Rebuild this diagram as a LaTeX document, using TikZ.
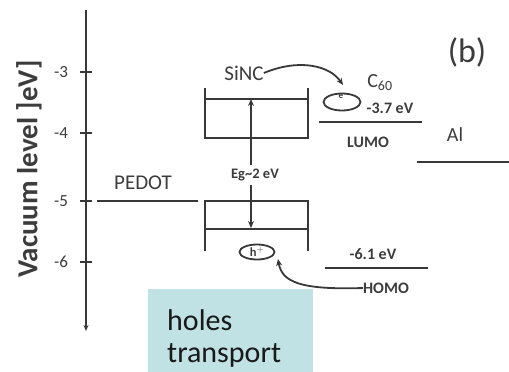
\documentclass[tikz,border=0pt]{standalone}
\usepackage{fontspec}
\setmainfont{Carlito}
\usetikzlibrary{arrows.meta,shapes.geometric}
\definecolor{ln}{HTML}{383838}
\definecolor{tx}{HTML}{3C3C3C}
\definecolor{teal}{HTML}{C0E2E4}
\tikzset{
  lvl/.style={draw=ln, line width=2.1pt},
  lab/.style={text=tx, inner sep=0pt},
  small/.style={lab, font=\bfseries\fontsize{16}{17}\selectfont},
  mid/.style={lab, font=\fontsize{21}{23}\selectfont},
  tick/.style={lab, font=\fontsize{17}{18}\selectfont},
  arr/.style={draw=ln, line width=1.8pt, -{Stealth[length=7pt,width=6pt]}},
  blob/.style={draw=ln, line width=1.8pt, ellipse, inner sep=0pt},
  big/.style={lab, text=black!90, anchor=base west, font=\fontsize{30}{32}\selectfont}
}
\begin{document}
\begin{tikzpicture}[x=1pt,y=-1pt]
\useasboundingbox (0,0) rectangle (509,372);
% axis
\coordinate (atop) at (86,10);
\coordinate (abot) at (86,331);
\draw[draw=ln, line width=2.1pt, -{Stealth[length=6pt,width=5pt]}] (atop) -- (abot);
\foreach \yy/\t in {72/-3,133/-4,201/-5,262/-6}{
  \draw[draw=ln, line width=2.1pt] (80,\yy) -- (92,\yy);
  \node[tick] at (61,\yy) {\t};
}
\node[lab, rotate=90, font=\bfseries\fontsize{29}{30}\selectfont] (ylab) at (29,169) {Vacuum level ]eV]};
% PEDOT
\draw[lvl] (97,201) -- (198,201);
\node[mid] (pedot) at (143,183) {PEDOT};
% SiNC upper well
\draw[lvl] (205,88) -- (205,138) -- (308,138) -- (308,88);
\draw[lvl] (205,99) -- (308,99);
% SiNC lower well
\draw[lvl] (205,251) -- (205,201) -- (308,201) -- (308,251);
\draw[lvl] (205,229) -- (308,229);
\node[mid] (sinc) at (244,73) {SiNC};
% Eg
\node[lab, font=\bfseries\fontsize{14.5}{15}\selectfont] (eg) at (255,175) {Eg\textasciitilde2 eV};
\coordinate (cbtop) at (251,99);
\coordinate (vbtop) at (251,228);
\draw[arr] (eg.north -| cbtop) ++(0,-4) -- (cbtop);
\draw[arr] (eg.south -| vbtop) ++(0,4) -- (vbtop);
% C60
\node[blob, minimum width=37pt, minimum height=17pt] (el) at (342,102) {};
\node[lab, font=\bfseries\fontsize{9}{9}\selectfont] at (341,96) {e};
\coordinate (etip) at (343,85);
\node[lab, font=\fontsize{20}{20}\selectfont] (c60) at (380,83) {C$_{\mathrm{60}}$};
\node[small] (v37) at (390,108) {-3.7 eV};
\draw[lvl] (319,122) -- (422,122);
\node[small] (lumo) at (368,142) {LUMO};
\draw[arr] (sinc.east) .. controls (300,58) and (330,66) .. (etip);
% Al
\node[lab, font=\fontsize{20}{20}\selectfont] (al) at (455,135) {Al};
\draw[lvl] (417,162) -- (509,162);
% (b)
\node[lab, font=\fontsize{34}{36}\selectfont] (b) at (467,52) {(b)};
% HOMO
\node[blob, minimum width=35pt, minimum height=15pt] (h) at (257,252) {};
\node[lab, font=\bfseries\fontsize{12.5}{12.5}\selectfont] at (257,252) {h$^{+}$};
\coordinate (htip) at (278,259);
\node[small] (v61) at (373,254) {-6.1 eV};
\draw[lvl] (325,268) -- (428,268);
\node[small] (homo) at (386,288) {HOMO};
\draw[arr] (homo.west) .. controls (300,290) and (282,282) .. (htip);
% holes transport box
\node[fill=teal, minimum width=165pt, minimum height=83pt, inner sep=0pt] (box) at (230.5,330.5) {};
\node[big] (holes) at (167,330) {holes};
\node[big] (transport) at (167,362) {transport};
\end{tikzpicture}
\end{document}
